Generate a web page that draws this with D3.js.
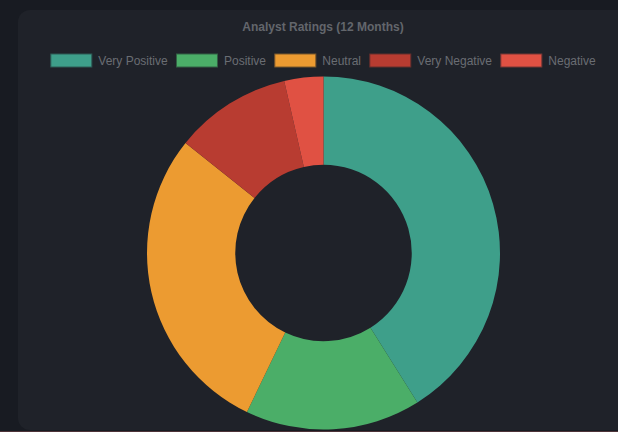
<!DOCTYPE html>
<html>
<head>
<meta charset="utf-8">
<script src="https://cdn.jsdelivr.net/npm/d3@7"></script>
<style>
  html, body { margin: 0; padding: 0; background: #181b22; }
  svg { display: block; }
</style>
</head>
<body>
<svg id="chart" width="618" height="432"></svg>
<script>
const categories = ["Very Positive", "Positive", "Neutral", "Very Negative", "Negative"];
const values = [23, 9, 16, 6, 2];
const colors = ["#3e9f8a", "#4bae68", "#ec9b31", "#b83c31", "#e05143"];
const titleText = "Analyst Ratings (12 Months)";

const svg = d3.select("#chart");
const W = 618, H = 432;
const cx = 323.5, cy = 253, outerR = 176.5, innerR = 88.25;

// page + card
svg.append("rect").attr("x", 0).attr("y", 0).attr("width", W).attr("height", H).attr("fill", "#181b22");
svg.append("rect").attr("x", 18).attr("y", 10).attr("width", 640).attr("height", 420)
  .attr("rx", 12).attr("ry", 12).attr("fill", "#1f2229");
svg.append("rect").attr("x", 0).attr("y", 431).attr("width", W).attr("height", 1).attr("fill", "#4d3339");

// title
svg.append("text")
  .attr("x", 323).attr("y", 30.5)
  .attr("text-anchor", "middle")
  .attr("font-family", "'Liberation Sans', Arial, Helvetica, sans-serif")
  .attr("font-size", 12).attr("font-weight", "bold")
  .attr("fill", "#63666c")
  .text(titleText);

// legend
const legend = svg.append("g");
const font = "'Liberation Sans', Arial, Helvetica, sans-serif";
const boxW = 41, boxH = 13, gapText = 6, itemPad = 9.3;
const items = categories.map((c, i) => {
  const g = legend.append("g");
  const t = g.append("text")
    .attr("font-family", font).attr("font-size", 12)
    .attr("fill", "#6a6d73")
    .attr("dominant-baseline", "central")
    .text(c);
  const tw = t.node().getComputedTextLength();
  return { g, t, tw, i };
});
const totalW = d3.sum(items, d => boxW + gapText + d.tw) + itemPad * (items.length - 1);
let x0 = 322.5 - totalW / 2;
const ly = 60.5;
items.forEach(d => {
  d.g.insert("rect", "text")
    .attr("x", x0 + 0.5).attr("y", ly - boxH / 2)
    .attr("width", boxW).attr("height", boxH)
    .attr("fill", colors[d.i])
    .attr("stroke", d3.interpolateRgb(colors[d.i], "#1f2229")(0.55))
    .attr("stroke-width", 1);
  d.t.attr("x", x0 + boxW + gapText + 1).attr("y", ly);
  x0 += boxW + gapText + d.tw + itemPad;
});

// donut
const pie = d3.pie().sort(null).value(d => d);
const arc = d3.arc().innerRadius(innerR).outerRadius(outerR);
svg.append("g").attr("transform", `translate(${cx},${cy})`)
  .selectAll("path")
  .data(pie(values))
  .join("path")
  .attr("d", arc)
  .attr("fill", (d, i) => colors[i]);
</script>
</body>
</html>
